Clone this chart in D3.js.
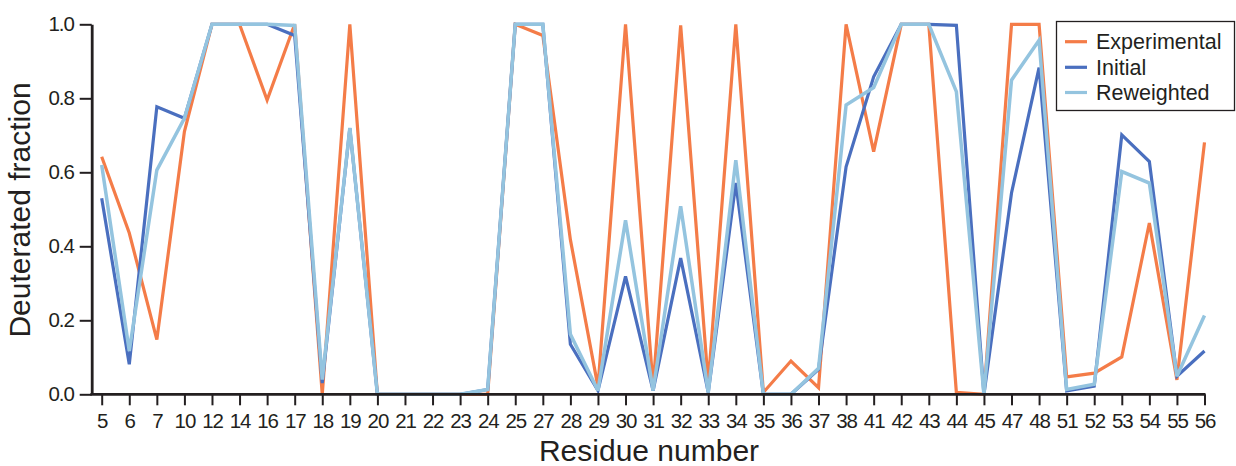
<!DOCTYPE html>
<html>
<head>
<meta charset="utf-8">
<script src="https://cdn.jsdelivr.net/npm/d3@7"></script>
<style>
  body { margin: 0; background: #fff; }
  svg text { font-family: "Liberation Sans", Arial, sans-serif; fill: #231f20; }
</style>
</head>
<body>
<div id="chart"></div>
<script>
const residues = [5, 6, 7, 10, 12, 14, 16, 17, 18, 19, 20, 21, 22, 23, 24, 25, 27, 28, 29, 30,
  31, 32, 33, 34, 35, 36, 37, 38, 41, 42, 43, 44, 45, 47, 48, 51, 52, 53, 54, 55, 56];

const experimental = [0.642, 0.436, 0.148, 0.71, 1.0, 1.0, 0.795, 1.0, 0.0, 1.0, 0, 0, 0, 0, 0.0,
  1.0, 0.97, 0.418, 0.02, 1.0, 0.02, 0.997, 0.03, 1.0, 0.005, 0.09, 0.018, 1.0, 0.656, 1.0, 1.0,
  0.005, 0.0, 1.0, 1.0, 0.047, 0.057, 0.101, 0.463, 0.039, 0.681];

const initial = [0.53, 0.081, 0.777, 0.746, 1.0, 1.0, 1.0, 0.97, 0.03, 0.719, 0, 0, 0, 0, 0.013,
  1.0, 1.0, 0.135, 0.01, 0.319, 0.01, 0.368, 0.005, 0.571, 0, 0, 0.067, 0.615, 0.858, 1.0, 1.0,
  0.997, 0, 0.544, 0.883, 0.009, 0.022, 0.701, 0.629, 0.049, 0.117];

const reweighted = [0.62, 0.117, 0.606, 0.746, 1.0, 1.0, 1.0, 0.997, 0.04, 0.72, 0, 0, 0, 0, 0.013,
  1.0, 1.0, 0.162, 0.01, 0.47, 0.01, 0.508, 0.005, 0.633, 0, 0, 0.07, 0.782, 0.829, 1.0, 1.0,
  0.818, 0, 0.849, 0.957, 0.013, 0.027, 0.602, 0.571, 0.049, 0.213];

const yTicks = [0, 0.2, 0.4, 0.6, 0.8, 1.0];

const seriesNames = ["Experimental", "Initial", "Reweighted"];
const seriesColors = ["#f47c48", "#4a6fbf", "#94c4df"];

const width = 1236, height = 466;
const axisColor = "#231f20";

const svg = d3.select("#chart").append("svg")
  .attr("width", width)
  .attr("height", height);

// scales
const xScale = d3.scalePoint()
  .domain(residues)
  .range([101.7, 1204.5]);
const yScale = d3.scaleLinear()
  .domain([0, 1])
  .range([394.3, 24.3]);
const yAxisX = 91.7;

// lines
const series = [experimental, initial, reweighted];
const line = d3.line()
  .x((d, i) => xScale(residues[i]))
  .y(d => yScale(d));

svg.append("g")
  .attr("class", "lines")
  .selectAll("path")
  .data(series)
  .join("path")
  .attr("d", d => line(d))
  .attr("fill", "none")
  .attr("stroke", (d, i) => seriesColors[i])
  .attr("stroke-width", (d, i) => i === 2 ? 3.5 : 3.2)
  .attr("stroke-linejoin", "miter")
  .attr("stroke-miterlimit", 3);

// x axis
const xAxisG = svg.append("g")
  .attr("class", "xAxisG")
  .attr("transform", "translate(0," + yScale(0) + ")")
  .call(d3.axisBottom(xScale).tickSize(11).tickPadding(8));
xAxisG.select(".domain").remove();
xAxisG.selectAll(".tick line").attr("stroke", axisColor).attr("stroke-width", 2);
xAxisG.selectAll(".tick text")
  .attr("font-size", 20.5)
  .attr("letter-spacing", -1.1)
  .style("fill", axisColor);
xAxisG.append("line")
  .attr("x1", yAxisX - 1.3).attr("x2", xScale(56) + 1)
  .attr("stroke", axisColor).attr("stroke-width", 2.8);

// y axis
const yAxisG = svg.append("g")
  .attr("class", "yAxisG")
  .attr("transform", "translate(" + yAxisX + ",0)")
  .call(d3.axisLeft(yScale).tickValues(yTicks).tickFormat(d3.format(".1f")).tickSize(12).tickSizeOuter(0).tickPadding(6));
yAxisG.select(".domain").attr("stroke", axisColor).attr("stroke-width", 2.8);
yAxisG.selectAll(".tick line").attr("stroke", axisColor).attr("stroke-width", 2);
yAxisG.selectAll(".tick text")
  .attr("font-size", 20.5)
  .attr("letter-spacing", -1.1)
  .style("fill", axisColor);

// axis titles
svg.append("text")
  .attr("x", 649)
  .attr("y", 461)
  .attr("text-anchor", "middle")
  .attr("font-size", 30)
  .text("Residue number");

svg.append("text")
  .attr("transform", "translate(30,210) rotate(-90)")
  .attr("text-anchor", "middle")
  .attr("font-size", 30)
  .text("Deuterated fraction");

// legend
const legend = svg.append("g").attr("class", "legend");
legend.append("rect")
  .attr("x", 1056.5).attr("y", 21.5)
  .attr("width", 178).attr("height", 89)
  .attr("fill", "#fff")
  .attr("stroke", axisColor)
  .attr("stroke-width", 1.3);

const legendRows = [41.7, 67.3, 92.5];
seriesNames.forEach((name, i) => {
  legend.append("line")
    .attr("x1", 1065).attr("x2", 1087)
    .attr("y1", legendRows[i]).attr("y2", legendRows[i])
    .attr("stroke", seriesColors[i])
    .attr("stroke-width", 3.2);
  legend.append("text")
    .attr("x", 1096)
    .attr("y", legendRows[i])
    .attr("dy", "0.35em")
    .attr("font-size", 21.5)
    .text(name);
});
</script>
</body>
</html>
